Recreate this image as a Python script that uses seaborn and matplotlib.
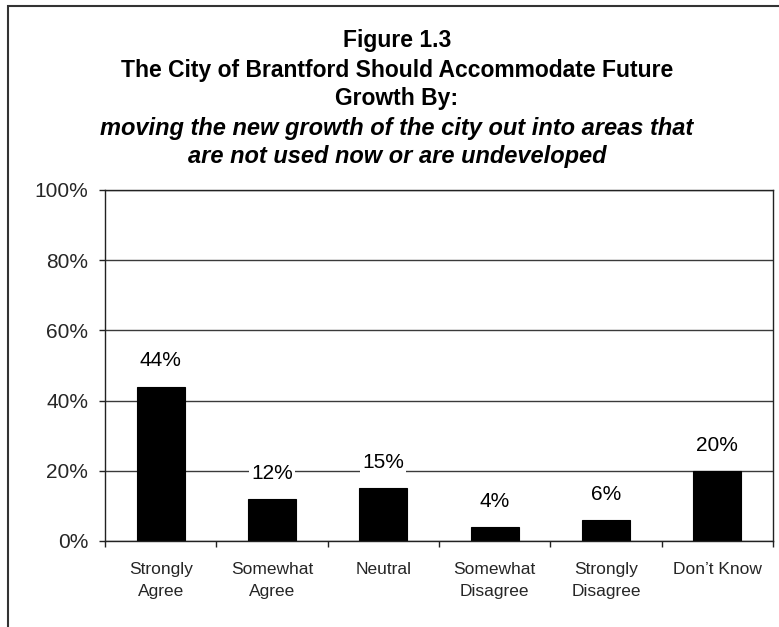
import matplotlib
matplotlib.use("Agg")
import matplotlib.pyplot as plt
from matplotlib.patches import Rectangle
from matplotlib.ticker import FixedLocator, PercentFormatter
import seaborn as sns

# Survey responses (percent of respondents)
categories = ["Strongly\nAgree", "Somewhat\nAgree", "Neutral",
              "Somewhat\nDisagree", "Strongly\nDisagree", "Don\u2019t Know"]
values = [44, 12, 15, 4, 6, 20]
value_labels = ["44%", "12%", "15%", "4%", "6%", "20%"]
y_ticks = [0, 20, 40, 60, 80, 100]

title_lines = [
    ("Figure 1.3", "normal"),
    ("The City of Brantford Should Accommodate Future", "normal"),
    ("Growth By:", "normal"),
    ("moving the new growth of the city out into areas that", "italic"),
    ("are not used now or are undeveloped", "italic"),
]

sns.set_theme(style="white")
plt.rcParams["font.family"] = ["Liberation Sans", "DejaVu Sans"]

W, H = 779, 627
fig = plt.figure(figsize=(W / 100, H / 100), dpi=100)
fig.patch.set_facecolor("white")

# plot area in pixel terms
left, right, top, bottom = 105, 773, 190, 541
ax = fig.add_axes([left / W, 1 - bottom / H, (right - left) / W, (bottom - top) / H])

sns.barplot(x=categories, y=values, color="black", width=0.43,
            saturation=1, edgecolor="black", linewidth=0.8, ax=ax)

ax.set_ylim(0, 100)
ax.set_xlim(-0.5, len(categories) - 0.5)
ax.yaxis.set_major_locator(FixedLocator(y_ticks))
ax.yaxis.set_major_formatter(PercentFormatter(decimals=0))
ax.set_axisbelow(True)
ax.grid(axis="y", color="#3a3a3a", linewidth=1.0)
ax.grid(axis="x", visible=False)
ax.set_xlabel("")
ax.set_ylabel("")

for s in ax.spines.values():
    s.set_visible(True)
    s.set_color("#222222")
    s.set_linewidth(1.0)

ax.tick_params(axis="y", which="major", direction="out", length=4.5, width=1,
               color="#222222", labelsize=15, pad=7.5, left=True)
ax.tick_params(axis="x", which="major", length=0, labelsize=12.5, pad=15)
ax.set_xticks(range(len(categories)))
ax.set_xticklabels(categories, linespacing=1.6)
ax.xaxis.set_minor_locator(FixedLocator([i - 0.5 for i in range(len(categories) + 1)]))
ax.tick_params(axis="x", which="minor", direction="out", length=4.5, width=1,
               color="#222222", bottom=True)

for i, (v, lab) in enumerate(zip(values, value_labels)):
    ax.annotate(lab, xy=(i, v), xytext=(0, 18.5), textcoords="offset points",
                ha="center", va="center", fontsize=15, color="black",
                bbox=dict(boxstyle="square,pad=0.1", fc="white", ec="none"))

# stacked title
ys = [41, 70, 99, 128, 157]
for (txt, style), y in zip(title_lines, ys):
    fig.text(397 / W, 1 - y / H, txt, ha="center", va="center",
             fontsize=17 if style == "italic" else 16.5,
             fontweight="bold", fontstyle=style, color="black")

# outer frame around the chart
fig.add_artist(Rectangle((8 / W, -0.05), 1.2, 1 - 6 / H + 0.05,
                         transform=fig.transFigure, fill=False,
                         edgecolor="#333333", linewidth=1.5, clip_on=False))

fig.savefig("out.png", dpi=100, facecolor="white")
